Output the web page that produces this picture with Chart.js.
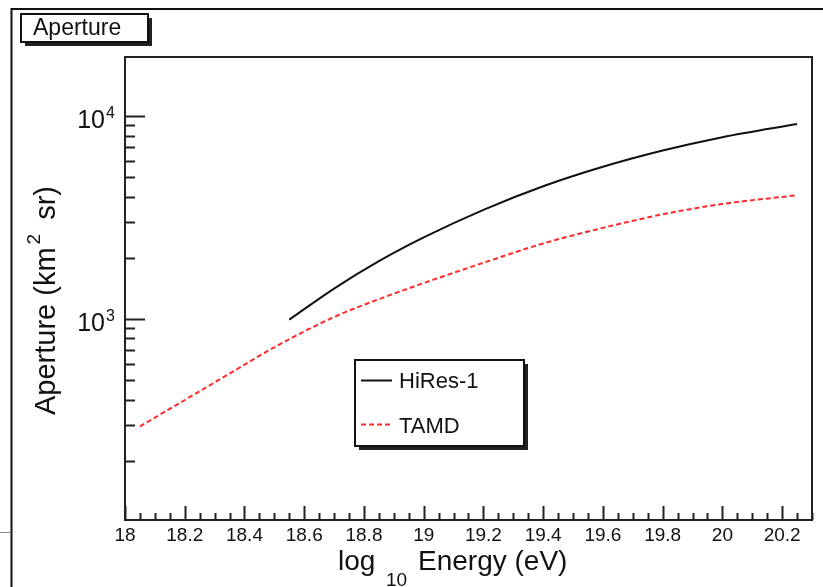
<!DOCTYPE html>
<html>
<head>
<meta charset="utf-8">
<title>Aperture</title>
<script src="https://cdn.jsdelivr.net/npm/chart.js@4.4.1/dist/chart.umd.min.js"></script>
<style>
  html, body { margin: 0; padding: 0; background: #fff; }
  canvas { display: block; }
</style>
</head>
<body>
<canvas id="aperture" width="823" height="587"></canvas>
<script>
// log10(E/eV) and aperture (km^2 sr) for each detector
const hiresEnergy   = [18.55, 18.7, 18.85, 19.0, 19.2, 19.4, 19.6, 19.8, 20.0, 20.25];
const hiresAperture = [990, 1409, 1923, 2518, 3443, 4498, 5610, 6745, 7852, 9120];

const tamdEnergy   = [18.05, 18.2, 18.35, 18.5, 18.7, 18.85, 19.0, 19.2, 19.4, 19.6, 19.8, 20.0, 20.25];
const tamdAperture = [295, 398, 537, 724, 1021, 1250, 1500, 1888, 2350, 2805, 3273, 3680, 4064];

// axis ticks and labels
const xTickValues = [18, 18.2, 18.4, 18.6, 18.8, 19, 19.2, 19.4, 19.6, 19.8, 20, 20.2];
const xTickLabels = ['18', '18.2', '18.4', '18.6', '18.8', '19', '19.2', '19.4', '19.6', '19.8', '20', '20.2'];
const yTickValues = [1000, 10000];
const yTickExponents = ['3', '4'];

const seriesNames = ['HiRes-1', 'TAMD'];

const FONT = "'Liberation Sans', Arial, Helvetica, sans-serif";
const INK = '#111';
const RED = '#ff2b2b';

function font(size) { return size + 'px ' + FONT; }

function shadowBox(ctx, x0, y0, w, h) {
  ctx.fillStyle = '#222';
  ctx.fillRect(x0 + 4, y0 + 4, w, h);
  ctx.fillStyle = '#fff';
  ctx.fillRect(x0, y0, w, h);
  ctx.strokeStyle = INK;
  ctx.lineWidth = 2;
  ctx.strokeRect(x0, y0, w, h);
}

const rootStyle = {
  id: 'rootStyle',
  beforeDraw(chart) {
    const ctx = chart.ctx;
    ctx.save();
    ctx.fillStyle = '#fff';
    ctx.fillRect(0, 0, chart.width, chart.height);
    ctx.restore();
  },
  afterDraw(chart) {
    const { ctx, chartArea: a } = chart;
    const xs = chart.scales.x, ys = chart.scales.y;
    ctx.save();

    // canvas frame
    ctx.strokeStyle = INK;
    ctx.lineWidth = 2;
    ctx.beginPath();
    ctx.moveTo(11.5, chart.height);
    ctx.lineTo(11.5, 9);
    ctx.lineTo(chart.width, 9);
    ctx.stroke();
    ctx.strokeStyle = '#888';
    ctx.lineWidth = 1;
    ctx.beginPath();
    ctx.moveTo(0, 532.5);
    ctx.lineTo(11, 532.5);
    ctx.stroke();

    // plot frame
    ctx.strokeStyle = '#222';
    ctx.lineWidth = 2;
    ctx.strokeRect(a.left, a.top, a.right - a.left, a.bottom - a.top);

    // x ticks (inward), minor every 0.05
    ctx.beginPath();
    for (let i = 0; ; i++) {
      const v = xs.min + i * 0.05;
      if (v > xs.max + 1e-9) break;
      const px = Math.round(xs.getPixelForValue(v)) + 0.5;
      const len = (i % 4 === 0) ? 14 : 7;
      ctx.moveTo(px, a.bottom);
      ctx.lineTo(px, a.bottom - len);
    }
    ctx.stroke();

    // y ticks (inward), decades plus 2..9 subdivisions
    ctx.beginPath();
    for (let k = 1; k <= 5; k++) {
      for (let m = 1; m <= 9; m++) {
        const v = m * Math.pow(10, k);
        if (v < ys.min || v > ys.max) continue;
        const py = Math.round(ys.getPixelForValue(v)) + 0.5;
        const len = (m === 1) ? 20 : 10;
        ctx.moveTo(a.left, py);
        ctx.lineTo(a.left + len, py);
      }
    }
    ctx.stroke();

    // y tick labels 10^n
    ctx.fillStyle = INK;
    yTickValues.forEach((v, i) => {
      const py = ys.getPixelForValue(v);
      ctx.font = font(25);
      ctx.textAlign = 'right';
      ctx.textBaseline = 'alphabetic';
      ctx.fillText('10', 105, py + 12);
      ctx.font = font(16);
      ctx.textAlign = 'left';
      ctx.fillText(yTickExponents[i], 106, py + 2);
    });

    // x axis title: log_10 Energy (eV)
    ctx.textAlign = 'left';
    ctx.textBaseline = 'alphabetic';
    ctx.font = font(28);
    ctx.fillText('log', 338, 570);
    ctx.font = font(19);
    ctx.fillText('10', 386, 586);
    ctx.font = font(28);
    ctx.fillText('Energy (eV)', 418, 570);

    // y axis title: Aperture (km^2 sr)
    ctx.save();
    ctx.translate(55, 415);
    ctx.rotate(-Math.PI / 2);
    ctx.font = font(29);
    const main = 'Aperture (km';
    ctx.fillText(main, 0, 0);
    let pos = ctx.measureText(main).width + 3;
    ctx.font = font(19);
    ctx.fillText('2', pos, -15);
    pos += ctx.measureText('2').width + 14;
    ctx.font = font(29);
    ctx.fillText('sr)', pos, 0);
    ctx.restore();

    // title box
    shadowBox(ctx, 21, 14, 127, 28);
    ctx.fillStyle = INK;
    ctx.font = font(23);
    ctx.fillText('Aperture', 33, 35);

    // legend
    shadowBox(ctx, 355, 360, 169, 86);
    ctx.lineWidth = 2;
    ctx.strokeStyle = INK;
    ctx.beginPath();
    ctx.moveTo(361, 380.5);
    ctx.lineTo(392, 380.5);
    ctx.stroke();
    ctx.strokeStyle = RED;
    ctx.setLineDash([5, 3]);
    ctx.beginPath();
    ctx.moveTo(361, 424.5);
    ctx.lineTo(392, 424.5);
    ctx.stroke();
    ctx.setLineDash([]);
    ctx.fillStyle = INK;
    ctx.font = font(22);
    ctx.fillText(seriesNames[0], 399, 388);
    ctx.fillText(seriesNames[1], 399, 433);

    ctx.restore();
  }
};

const toPoints = (xs, ys) => xs.map((x, i) => ({ x: x, y: ys[i] }));

new Chart(document.getElementById('aperture').getContext('2d'), {
  type: 'scatter',
  data: {
    datasets: [
      {
        label: seriesNames[0],
        data: toPoints(hiresEnergy, hiresAperture),
        showLine: true,
        borderColor: INK,
        borderWidth: 2,
        pointRadius: 0,
        cubicInterpolationMode: 'monotone',
        fill: false
      },
      {
        label: seriesNames[1],
        data: toPoints(tamdEnergy, tamdAperture),
        showLine: true,
        borderColor: RED,
        borderWidth: 2,
        borderDash: [5, 3],
        pointRadius: 0,
        cubicInterpolationMode: 'monotone',
        fill: false
      }
    ]
  },
  options: {
    responsive: false,
    animation: false,
    devicePixelRatio: 1,
    layout: { padding: { top: 57, right: 11, left: 0, bottom: 0 } },
    plugins: { legend: { display: false }, tooltip: { enabled: false }, title: { display: false } },
    scales: {
      x: {
        type: 'linear',
        min: 18,
        max: 20.3,
        grid: { display: false, drawTicks: false },
        border: { display: false },
        afterBuildTicks(scale) { scale.ticks = xTickValues.map(v => ({ value: v })); },
        afterFit(scale) { scale.height = 67; },
        ticks: {
          font: { family: FONT, size: 19 },
          color: INK,
          padding: 4,
          maxRotation: 0,
          autoSkip: false,
          callback: (v, i) => xTickLabels[i]
        }
      },
      y: {
        type: 'logarithmic',
        min: 102,
        max: 19500,
        grid: { display: false, drawTicks: false },
        border: { display: false },
        ticks: { display: false },
        afterFit(scale) { scale.width = 125; }
      }
    }
  },
  plugins: [rootStyle]
});
</script>
</body>
</html>
